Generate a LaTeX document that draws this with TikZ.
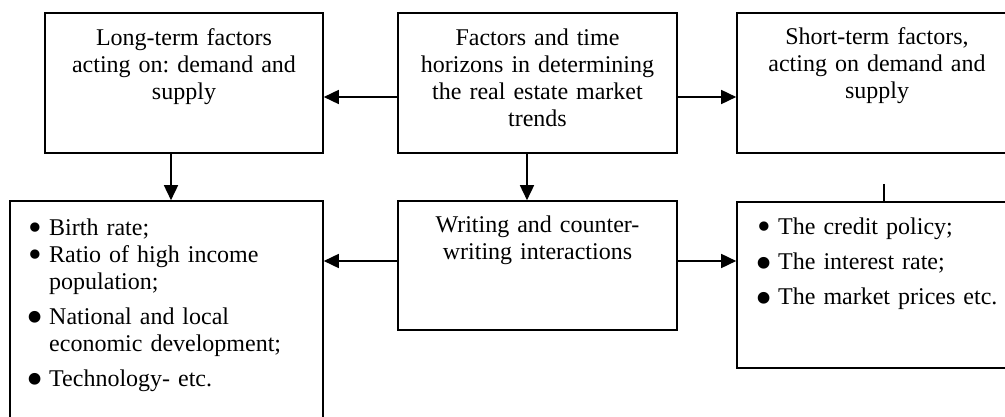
\documentclass[tikz,border=0pt]{standalone}
\usepackage{fontspec}
\setmainfont{Liberation Serif}
\usetikzlibrary{arrows.meta}
\frenchspacing
\newcommand{\smbul}{\makebox[21pt][l]{\smash{\raisebox{-4.5pt}{\fontsize{39}{27}\selectfont\textbullet}}}}
\newcommand{\bgbul}{\makebox[21pt][l]{\hspace*{-1.5pt}\smash{\raisebox{-9.2pt}{\fontsize{49}{27}\selectfont\textbullet}}}}
\tikzset{
  box/.style={draw, line width=1.6pt, inner sep=0pt, rectangle},
  txt/.style={inner sep=0pt, font=\fontsize{24}{27}\selectfont, anchor=base},
  lst/.style={inner sep=0pt, font=\fontsize{24}{27}\selectfont, anchor=base west, align=left},
  arr/.style={line width=1.6pt, -{Triangle[length=15pt,width=14pt]}},
  ln/.style={line width=1.6pt}
}
\begin{document}
\begin{tikzpicture}[x=1pt,y=-1pt]
\useasboundingbox (0,0) rectangle (1005,417);
\clip (0,0) rectangle (1005,417);
% boxes
\node[box, minimum width=278pt, minimum height=140pt] (A) at (184,83) {};
\node[box, minimum width=279pt, minimum height=140pt] (B) at (537.5,83) {};
\node[box, minimum width=280pt, minimum height=140pt] (C) at (877,83) {};
\node[box, minimum width=313pt, minimum height=239pt] (D) at (166.5,320.5) {};
\node[box, minimum width=279pt, minimum height=129pt] (E) at (537.5,265.5) {};
\node[box, minimum width=280pt, minimum height=166pt] (F) at (877,285) {};
% texts
\node[txt, text width=270pt, align=center] (At) at (184,46) {Long-term factors\\acting on: demand and\\supply};
\node[txt, text width=270pt, align=center] (Bt) at (537.5,46) {Factors and time\\horizons in determining\\the real estate market\\trends};
\node[txt, text width=270pt, align=center] (Ct) at (877,45) {Short-term factors,\\acting on demand and\\supply};
\node[txt, text width=270pt, align=center] (Et) at (537.5,233) {Writing and counter-\\writing interactions};
\node[lst, text width=290pt] (Dt) at (28,235.7) {\smbul Birth rate;\\
\smbul Ratio of high income\\
\hspace*{21pt}population;\\[8pt]
\bgbul National and local\\
\hspace*{21pt}economic development;\\[8pt]
\bgbul Technology- etc.};
\node[lst, text width=240pt] (Ft) at (757,235) {\smbul The credit policy;\\[8pt]
\bgbul The interest rate;\\[8pt]
\bgbul\mbox{The market prices etc.}};
% connectors
\draw[arr] ([yshift=-14pt]B.west) -- ([yshift=-14pt]A.east);
\draw[arr] ([yshift=-14pt]B.east) -- ([yshift=-14pt]C.west);
\draw[arr] ([xshift=-13pt]A.south) -- ([xshift=-13pt]A.south |- D.north);
\draw[arr] ([xshift=-10.5pt]B.south) -- ([xshift=-10.5pt]E.north);
\draw[arr] ([yshift=4.5pt]E.west) -- ([yshift=4.5pt]E.west -| D.east);
\draw[arr] ([yshift=4.5pt]E.east) -- ([yshift=4.5pt]E.east -| F.west);
\coordinate (t) at (884,184);
\draw[ln] (t) -- (t |- F.north);
\end{tikzpicture}
\end{document}
